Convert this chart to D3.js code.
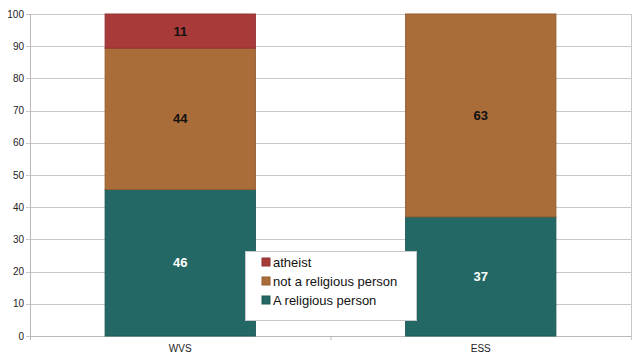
<!DOCTYPE html>
<html>
<head>
<meta charset="utf-8">
<script src="https://cdn.jsdelivr.net/npm/d3@7"></script>
<style>
  body { margin: 0; background: #fff; }
  svg { display: block; font-family: "Liberation Sans", Arial, sans-serif; }
</style>
</head>
<body>
<svg id="chart"></svg>
<script>
// survey data (percent)
var categories = ["WVS", "ESS"];
var religious = [45.5, 37];
var notReligious = [43.9, 63];
var atheist = [10.6, 0];
var labelsShown = [["46", "37"], ["44", "63"], ["11", ""]];
var yTicks = [0, 10, 20, 30, 40, 50, 60, 70, 80, 90, 100];

var seriesNames = ["A religious person", "not a religious person", "atheist"];
var colors = ["#236864", "#aa6c39", "#a83a3a"];
var labelColors = ["#fff", "#111", "#111"];

var W = 640, H = 362;
var margin = { top: 14, right: 9, bottom: 26, left: 30 };
var width = W - margin.left - margin.right;
var height = H - margin.top - margin.bottom;

var svg = d3.select("#chart").attr("width", W).attr("height", H);
var g = svg.append("g").attr("transform", "translate(" + margin.left + "," + margin.top + ")");

var x = d3.scaleBand().domain(categories).range([0, width]).paddingInner(0).paddingOuter(0);
var y = d3.scaleLinear().domain([0, 100]).range([height, 0]);

// gridlines
g.append("g").selectAll("line").data(yTicks).enter().append("line")
  .attr("x1", -4).attr("x2", width)
  .attr("y1", function(d) { return Math.round(y(d)) + 0.5; })
  .attr("y2", function(d) { return Math.round(y(d)) + 0.5; })
  .attr("stroke", "#c8c8c8").attr("stroke-width", 1);

// y axis labels
g.append("g").selectAll("text").data(yTicks).enter().append("text")
  .attr("x", -6).attr("y", function(d) { return y(d); })
  .attr("dy", "0.35em").attr("text-anchor", "end")
  .attr("font-size", 10).attr("fill", "#222")
  .text(function(d) { return d; });

// axis lines
g.append("line").attr("x1", 0.5).attr("x2", 0.5).attr("y1", 0).attr("y2", height + 4)
  .attr("stroke", "#b8b8b8");
g.append("line").attr("x1", width + 0.5).attr("x2", width + 0.5).attr("y1", 0).attr("y2", height + 4)
  .attr("stroke", "#c8c8c8");
g.append("line").attr("x1", 0).attr("x2", width).attr("y1", height + 0.5).attr("y2", height + 0.5)
  .attr("stroke", "#b8b8b8");
g.append("line").attr("x1", width / 2 + 0.5).attr("x2", width / 2 + 0.5).attr("y1", height).attr("y2", height + 4)
  .attr("stroke", "#b8b8b8");

// stacked data
var rows = categories.map(function(c, i) {
  return { cat: c, s0: religious[i], s1: notReligious[i], s2: atheist[i] };
});
var stack = d3.stack().keys(["s0", "s1", "s2"]);
var layers = stack(rows);

var barW = x.bandwidth() / 2;

layers.forEach(function(layer, li) {
  var lg = g.append("g");
  lg.selectAll("rect").data(layer).enter().append("rect")
    .filter(function(d) { return d[1] - d[0] > 0; })
    .attr("x", function(d) { return x(d.data.cat) + (x.bandwidth() - barW) / 2; })
    .attr("y", function(d) { return y(d[1]); })
    .attr("width", barW)
    .attr("height", function(d) { return y(d[0]) - y(d[1]); })
    .attr("fill", colors[li])
    .attr("stroke", d3.color(colors[li]).darker(0.4))
    .attr("stroke-width", 1);

  lg.selectAll("text").data(layer).enter().append("text")
    .attr("x", function(d) { return x(d.data.cat) + x.bandwidth() / 2; })
    .attr("y", function(d) { return y((d[0] + d[1]) / 2); })
    .attr("dy", "0.35em").attr("text-anchor", "middle")
    .attr("font-size", 13).attr("font-weight", "bold")
    .attr("fill", labelColors[li])
    .text(function(d, i) { return labelsShown[li][i]; });
});

// category labels
g.append("g").selectAll("text").data(categories).enter().append("text")
  .attr("x", function(d) { return x(d) + x.bandwidth() / 2; })
  .attr("y", height + 16)
  .attr("text-anchor", "middle").attr("font-size", 10).attr("fill", "#222")
  .text(function(d) { return d; });

// legend
var legend = svg.append("g").attr("transform", "translate(245,251)");
legend.append("rect").attr("x", 0.5).attr("y", 0.5).attr("width", 171).attr("height", 69)
  .attr("fill", "#fff").attr("stroke", "#c8c8c8");
var order = [2, 1, 0];
order.forEach(function(si, k) {
  var row = legend.append("g").attr("transform", "translate(0," + (11 + k * 19) + ")");
  row.append("rect").attr("x", 17).attr("y", -4).attr("width", 8).attr("height", 8)
    .attr("fill", colors[si]).attr("stroke", d3.color(colors[si]).darker(0.4));
  row.append("text").attr("x", 28).attr("y", 0).attr("dy", "0.35em")
    .attr("font-size", 13).attr("fill", "#111").text(seriesNames[si]);
});
</script>
</body>
</html>
